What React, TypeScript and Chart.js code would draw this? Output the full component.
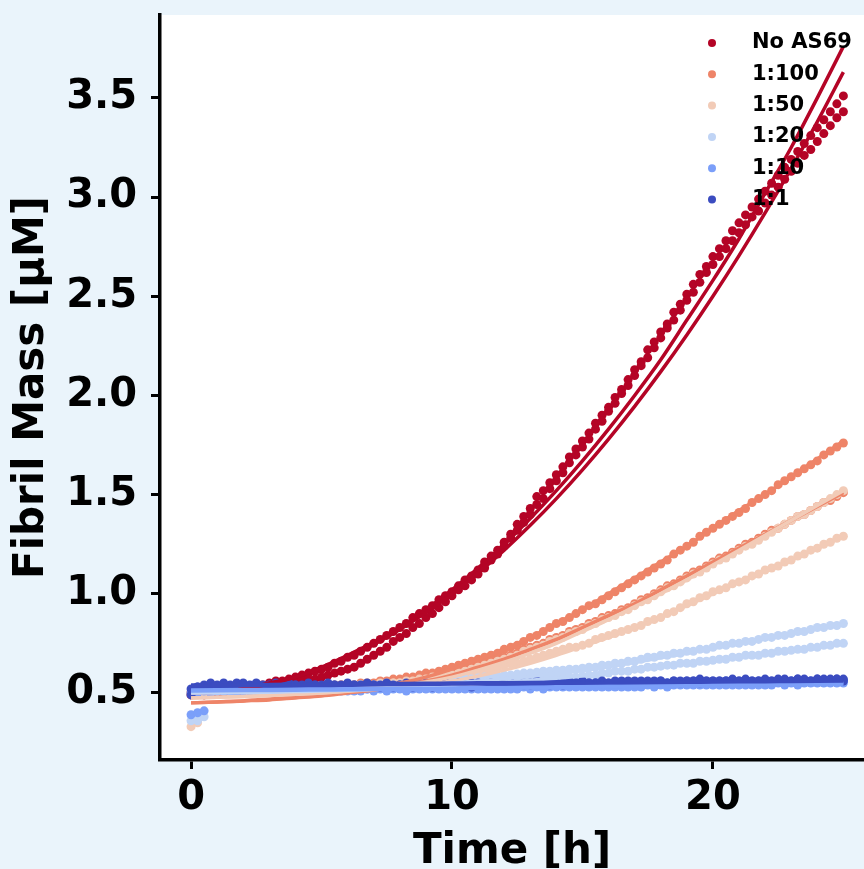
import { useEffect, useRef } from "react";
import { Chart, registerables } from "chart.js";

Chart.register(...registerables);

// ---------------- data ----------------
const conditions = ["No AS69", "1:100", "1:50", "1:20", "1:10", "1:1"];
const colors = ["#b40426", "#ee8468", "#f2cbb7", "#c0d4f5", "#7b9ff9", "#3b4cc0"];

const times = [
  0, 0.25, 0.5, 0.75, 1, 1.25, 1.5, 1.75, 2, 2.25, 2.5, 2.75, 3, 3.25, 3.5, 3.75,
  4, 4.25, 4.5, 4.75, 5, 5.25, 5.5, 5.75, 6, 6.25, 6.5, 6.75, 7, 7.25, 7.5, 7.75,
  8, 8.25, 8.5, 8.75, 9, 9.25, 9.5, 9.75, 10, 10.25, 10.5, 10.75, 11, 11.25, 11.5, 11.75,
  12, 12.25, 12.5, 12.75, 13, 13.25, 13.5, 13.75, 14, 14.25, 14.5, 14.75, 15, 15.25, 15.5, 15.75,
  16, 16.25, 16.5, 16.75, 17, 17.25, 17.5, 17.75, 18, 18.25, 18.5, 18.75, 19, 19.25, 19.5, 19.75,
  20, 20.25, 20.5, 20.75, 21, 21.25, 21.5, 21.75, 22, 22.25, 22.5, 22.75, 23, 23.25, 23.5, 23.75,
  24, 24.25, 24.5, 24.75, 25,
];

const fitTimes = [0, 1, 2, 3, 4, 5, 6, 7, 8, 9, 10, 11, 12, 13, 14, 15, 16, 17, 18, 19, 20, 21, 22, 23, 24, 25];

// measured points (two replicates per condition)
const noAS69A = [
  0.50, 0.50, 0.51, 0.50,
  0.51, 0.51, 0.52, 0.52,
  0.53, 0.53, 0.54, 0.54,
  0.55, 0.56, 0.56, 0.57,
  0.58, 0.59, 0.60, 0.61,
  0.62, 0.63, 0.65, 0.66,
  0.68, 0.69, 0.71, 0.73,
  0.75, 0.77, 0.79, 0.81,
  0.83, 0.85, 0.88, 0.90,
  0.92, 0.94, 0.97, 0.99,
  1.01, 1.04, 1.07, 1.09,
  1.12, 1.16, 1.19, 1.22,
  1.26, 1.30, 1.35, 1.39,
  1.43, 1.49, 1.52, 1.56,
  1.60, 1.64, 1.69, 1.73,
  1.77, 1.81, 1.86, 1.90,
  1.94, 1.99, 2.03, 2.08,
  2.13, 2.17, 2.23, 2.27,
  2.32, 2.36, 2.42, 2.46,
  2.51, 2.56, 2.61, 2.65,
  2.70, 2.74, 2.78, 2.83,
  2.87, 2.91, 2.95, 2.99,
  3.03, 3.07, 3.11, 3.15,
  3.19, 3.23, 3.27, 3.31,
  3.35, 3.39, 3.43, 3.47,
  3.51,
];
const noAS69B = [
  0.49, 0.50, 0.49, 0.50,
  0.50, 0.50, 0.51, 0.51,
  0.51, 0.52, 0.52, 0.53,
  0.53, 0.54, 0.54, 0.55,
  0.55, 0.56, 0.57, 0.57,
  0.58, 0.59, 0.60, 0.61,
  0.62, 0.63, 0.65, 0.67,
  0.69, 0.71, 0.73, 0.76,
  0.78, 0.80, 0.83, 0.85,
  0.88, 0.90, 0.93, 0.96,
  0.99, 1.02, 1.04, 1.07,
  1.10, 1.13, 1.17, 1.20,
  1.24, 1.28, 1.32, 1.36,
  1.40, 1.45, 1.48, 1.53,
  1.57, 1.61, 1.66, 1.70,
  1.74, 1.78, 1.83, 1.87,
  1.92, 1.96, 2.01, 2.05,
  2.10, 2.15, 2.19, 2.24,
  2.29, 2.34, 2.38, 2.43,
  2.48, 2.52, 2.57, 2.62,
  2.66, 2.70, 2.74, 2.78,
  2.82, 2.86, 2.90, 2.93,
  2.97, 3.01, 3.05, 3.09,
  3.13, 3.17, 3.21, 3.24,
  3.28, 3.32, 3.36, 3.40,
  3.43,
];
const r100A = [
  0.50, 0.51, 0.52, 0.52,
  0.52, 0.52, 0.52, 0.53,
  0.52, 0.53, 0.52, 0.53,
  0.53, 0.53, 0.52, 0.53,
  0.53, 0.53, 0.53, 0.53,
  0.53, 0.53, 0.54, 0.54,
  0.54, 0.54, 0.55, 0.55,
  0.55, 0.56, 0.56, 0.57,
  0.57, 0.58, 0.58, 0.59,
  0.60, 0.60, 0.61, 0.62,
  0.63, 0.64, 0.65, 0.66,
  0.67, 0.68, 0.69, 0.70,
  0.72, 0.73, 0.74, 0.76,
  0.78, 0.79, 0.81, 0.83,
  0.85, 0.86, 0.88, 0.90,
  0.92, 0.94, 0.95, 0.97,
  0.99, 1.01, 1.03, 1.05,
  1.07, 1.09, 1.11, 1.13,
  1.15, 1.17, 1.20, 1.22,
  1.24, 1.26, 1.29, 1.31,
  1.33, 1.35, 1.37, 1.39,
  1.41, 1.43, 1.46, 1.48,
  1.50, 1.52, 1.55, 1.57,
  1.59, 1.61, 1.63, 1.65,
  1.67, 1.70, 1.72, 1.74,
  1.76,
];
const r100B = [
  0.50, 0.51, 0.51, 0.52,
  0.52, 0.52, 0.52, 0.52,
  0.52, 0.52, 0.53, 0.52,
  0.52, 0.53, 0.53, 0.53,
  0.53, 0.53, 0.53, 0.53,
  0.53, 0.53, 0.53, 0.54,
  0.53, 0.54, 0.54, 0.54,
  0.54, 0.55, 0.55, 0.55,
  0.56, 0.56, 0.57, 0.57,
  0.58, 0.58, 0.59, 0.59,
  0.60, 0.61, 0.62, 0.63,
  0.64, 0.65, 0.66, 0.67,
  0.68, 0.69, 0.70, 0.72,
  0.73, 0.74, 0.75, 0.77,
  0.78, 0.79, 0.81, 0.82,
  0.83, 0.85, 0.86, 0.88,
  0.89, 0.90, 0.92, 0.93,
  0.95, 0.97, 0.98, 1.00,
  1.02, 1.04, 1.05, 1.07,
  1.09, 1.11, 1.12, 1.14,
  1.16, 1.18, 1.19, 1.21,
  1.23, 1.25, 1.26, 1.28,
  1.30, 1.32, 1.33, 1.35,
  1.37, 1.39, 1.40, 1.42,
  1.44, 1.46, 1.47, 1.49,
  1.51,
];
const r50A = [
  0.33, 0.35, 0.50, 0.51,
  0.52, 0.52, 0.52, 0.52,
  0.52, 0.52, 0.52, 0.53,
  0.52, 0.53, 0.53, 0.53,
  0.53, 0.53, 0.53, 0.53,
  0.53, 0.53, 0.53, 0.53,
  0.54, 0.54, 0.54, 0.54,
  0.54, 0.55, 0.55, 0.55,
  0.55, 0.56, 0.56, 0.57,
  0.57, 0.58, 0.58, 0.59,
  0.59, 0.60, 0.61, 0.62,
  0.63, 0.64, 0.65, 0.66,
  0.67, 0.68, 0.69, 0.71,
  0.72, 0.73, 0.74, 0.76,
  0.77, 0.78, 0.80, 0.81,
  0.82, 0.84, 0.85, 0.87,
  0.88, 0.89, 0.91, 0.92,
  0.94, 0.96, 0.97, 0.99,
  1.01, 1.03, 1.04, 1.06,
  1.08, 1.10, 1.11, 1.13,
  1.15, 1.17, 1.18, 1.20,
  1.22, 1.24, 1.25, 1.27,
  1.29, 1.31, 1.33, 1.35,
  1.37, 1.39, 1.40, 1.42,
  1.44, 1.46, 1.48, 1.50,
  1.52,
];
const r50B = [
  0.50, 0.51, 0.51, 0.52,
  0.52, 0.52, 0.52, 0.52,
  0.52, 0.52, 0.52, 0.52,
  0.52, 0.52, 0.53, 0.52,
  0.53, 0.53, 0.53, 0.53,
  0.53, 0.53, 0.53, 0.53,
  0.53, 0.53, 0.54, 0.54,
  0.54, 0.54, 0.54, 0.55,
  0.55, 0.55, 0.55, 0.56,
  0.56, 0.56, 0.57, 0.57,
  0.57, 0.58, 0.59, 0.59,
  0.60, 0.61, 0.62, 0.63,
  0.64, 0.65, 0.65, 0.66,
  0.67, 0.68, 0.69, 0.70,
  0.71, 0.72, 0.73, 0.73,
  0.74, 0.75, 0.77, 0.78,
  0.79, 0.80, 0.81, 0.82,
  0.83, 0.84, 0.86, 0.87,
  0.88, 0.90, 0.91, 0.93,
  0.95, 0.96, 0.98, 0.99,
  1.01, 1.02, 1.03, 1.05,
  1.06, 1.07, 1.09, 1.10,
  1.12, 1.13, 1.14, 1.16,
  1.17, 1.19, 1.20, 1.22,
  1.23, 1.25, 1.26, 1.28,
  1.29,
];
const r20A = [
  0.36, 0.36, 0.38, 0.50,
  0.51, 0.52, 0.52, 0.52,
  0.52, 0.52, 0.53, 0.52,
  0.52, 0.53, 0.53, 0.52,
  0.53, 0.53, 0.53, 0.53,
  0.53, 0.53, 0.53, 0.53,
  0.53, 0.53, 0.54, 0.53,
  0.54, 0.54, 0.54, 0.54,
  0.54, 0.54, 0.54, 0.55,
  0.55, 0.55, 0.55, 0.56,
  0.56, 0.56, 0.57, 0.57,
  0.575, 0.58, 0.58, 0.585,
  0.59, 0.59, 0.595, 0.60,
  0.60, 0.605, 0.61, 0.61,
  0.615, 0.615, 0.62, 0.62,
  0.625, 0.63, 0.63, 0.64,
  0.64, 0.65, 0.65, 0.66,
  0.66, 0.67, 0.68, 0.68,
  0.69, 0.69, 0.70, 0.70,
  0.71, 0.71, 0.72, 0.72,
  0.73, 0.74, 0.74, 0.75,
  0.75, 0.76, 0.76, 0.77,
  0.78, 0.78, 0.79, 0.79,
  0.80, 0.81, 0.81, 0.82,
  0.83, 0.83, 0.84, 0.84,
  0.85,
];
const r20B = [
  0.50, 0.51, 0.51, 0.51,
  0.52, 0.52, 0.52, 0.52,
  0.52, 0.52, 0.52, 0.52,
  0.52, 0.52, 0.52, 0.53,
  0.52, 0.52, 0.53, 0.52,
  0.53, 0.52, 0.53, 0.53,
  0.53, 0.53, 0.53, 0.53,
  0.53, 0.53, 0.53, 0.53,
  0.53, 0.54, 0.53, 0.54,
  0.54, 0.54, 0.54, 0.54,
  0.545, 0.545, 0.55, 0.55,
  0.55, 0.55, 0.55, 0.56,
  0.56, 0.56, 0.56, 0.57,
  0.57, 0.57, 0.57, 0.58,
  0.58, 0.58, 0.58, 0.58,
  0.585, 0.59, 0.59, 0.60,
  0.60, 0.61, 0.61, 0.61,
  0.62, 0.62, 0.63, 0.63,
  0.635, 0.64, 0.64, 0.65,
  0.65, 0.65, 0.66, 0.66,
  0.665, 0.67, 0.67, 0.68,
  0.68, 0.69, 0.69, 0.69,
  0.70, 0.70, 0.71, 0.71,
  0.715, 0.72, 0.72, 0.73,
  0.73, 0.74, 0.74, 0.75,
  0.75,
];
const r10A = [
  0.39, 0.40, 0.41, 0.50,
  0.51, 0.51, 0.52, 0.51,
  0.52, 0.51, 0.52, 0.52,
  0.52, 0.52, 0.51, 0.52,
  0.52, 0.52, 0.52, 0.52,
  0.52, 0.52, 0.52, 0.53,
  0.52, 0.52, 0.53, 0.52,
  0.52, 0.53, 0.52, 0.53,
  0.53, 0.52, 0.53, 0.53,
  0.53, 0.53, 0.53, 0.53,
  0.53, 0.53, 0.53, 0.53,
  0.53, 0.54, 0.53, 0.53,
  0.54, 0.53, 0.54, 0.54,
  0.54, 0.54, 0.54, 0.54,
  0.54, 0.54, 0.54, 0.54,
  0.54, 0.54, 0.55, 0.54,
  0.54, 0.55, 0.54, 0.55,
  0.55, 0.55, 0.55, 0.55,
  0.55, 0.55, 0.55, 0.55,
  0.55, 0.55, 0.55, 0.55,
  0.55, 0.55, 0.56, 0.55,
  0.55, 0.56, 0.55, 0.56,
  0.56, 0.55, 0.56, 0.56,
  0.56, 0.56, 0.56, 0.56,
  0.56, 0.56, 0.56, 0.56,
  0.56,
];
const r10B = [
  0.50, 0.50, 0.51, 0.51,
  0.51, 0.51, 0.51, 0.51,
  0.51, 0.51, 0.51, 0.51,
  0.51, 0.51, 0.51, 0.51,
  0.51, 0.51, 0.51, 0.51,
  0.51, 0.51, 0.51, 0.51,
  0.51, 0.51, 0.51, 0.52,
  0.51, 0.52, 0.51, 0.52,
  0.52, 0.51, 0.52, 0.52,
  0.52, 0.52, 0.52, 0.52,
  0.52, 0.52, 0.52, 0.52,
  0.52, 0.52, 0.52, 0.52,
  0.52, 0.52, 0.52, 0.53,
  0.52, 0.53, 0.52, 0.53,
  0.53, 0.53, 0.53, 0.53,
  0.53, 0.53, 0.53, 0.53,
  0.53, 0.53, 0.53, 0.53,
  0.53, 0.53, 0.54, 0.53,
  0.54, 0.53, 0.54, 0.54,
  0.54, 0.54, 0.54, 0.54,
  0.54, 0.54, 0.54, 0.54,
  0.54, 0.54, 0.54, 0.54,
  0.54, 0.54, 0.55, 0.54,
  0.55, 0.54, 0.55, 0.55,
  0.55, 0.55, 0.55, 0.55,
  0.55,
];
const r1A = [
  0.49, 0.53, 0.54, 0.55,
  0.54, 0.55, 0.54, 0.55,
  0.55, 0.54, 0.55, 0.54,
  0.54, 0.55, 0.54, 0.55,
  0.54, 0.54, 0.55, 0.54,
  0.54, 0.55, 0.54, 0.54,
  0.55, 0.54, 0.54, 0.55,
  0.54, 0.54, 0.55, 0.54,
  0.54, 0.55, 0.54, 0.54,
  0.55, 0.54, 0.54, 0.55,
  0.54, 0.55, 0.54, 0.55,
  0.55, 0.54, 0.55, 0.55,
  0.55, 0.55, 0.54, 0.55,
  0.55, 0.56, 0.55, 0.55,
  0.55, 0.55, 0.56, 0.55,
  0.56, 0.55, 0.55, 0.56,
  0.55, 0.56, 0.56, 0.55,
  0.56, 0.56, 0.55, 0.56,
  0.56, 0.55, 0.56, 0.56,
  0.56, 0.56, 0.57, 0.56,
  0.56, 0.56, 0.56, 0.57,
  0.56, 0.57, 0.56, 0.56,
  0.57, 0.56, 0.56, 0.57,
  0.56, 0.57, 0.57, 0.56,
  0.57, 0.57, 0.56, 0.57,
  0.57,
];
const r1B = [
  0.52, 0.53, 0.53, 0.53,
  0.53, 0.54, 0.53, 0.53,
  0.54, 0.53, 0.54, 0.53,
  0.53, 0.54, 0.53, 0.53,
  0.54, 0.53, 0.53, 0.54,
  0.53, 0.53, 0.54, 0.53,
  0.53, 0.54, 0.53, 0.54,
  0.54, 0.53, 0.54, 0.53,
  0.54, 0.54, 0.53, 0.54,
  0.54, 0.53, 0.54, 0.54,
  0.54, 0.54, 0.54, 0.53,
  0.54, 0.54, 0.54, 0.54,
  0.54, 0.55, 0.54, 0.54,
  0.54, 0.55, 0.55, 0.54,
  0.55, 0.54, 0.55, 0.55,
  0.55, 0.55, 0.55, 0.55,
  0.55, 0.55, 0.55, 0.56,
  0.55, 0.55, 0.56, 0.55,
  0.56, 0.55, 0.56, 0.55,
  0.56, 0.56, 0.55, 0.56,
  0.56, 0.56, 0.56, 0.56,
  0.56, 0.56, 0.56, 0.56,
  0.56, 0.56, 0.57, 0.56,
  0.56, 0.57, 0.56, 0.56,
  0.57, 0.56, 0.57, 0.57,
  0.56,
];

// fitted curves (hourly)
const fitNoAS69A = [0.50, 0.505, 0.52, 0.55, 0.58, 0.63, 0.69, 0.755, 0.83, 0.92, 1.02, 1.13, 1.25, 1.38, 1.52, 1.67, 1.83, 2.00, 2.18, 2.38, 2.58, 2.79, 3.02, 3.25, 3.50, 3.76];
const fitNoAS69B = [0.50, 0.505, 0.52, 0.545, 0.58, 0.625, 0.68, 0.745, 0.82, 0.905, 1.00, 1.105, 1.22, 1.345, 1.48, 1.625, 1.78, 1.945, 2.12, 2.305, 2.50, 2.705, 2.92, 3.145, 3.38, 3.63];
const fit100A = [0.45, 0.455, 0.46, 0.47, 0.48, 0.49, 0.505, 0.525, 0.55, 0.58, 0.62, 0.67, 0.72, 0.78, 0.85, 0.92, 1.00, 1.08, 1.16, 1.24, 1.33, 1.42, 1.50, 1.59, 1.68, 1.77];
const fit100B = [0.45, 0.455, 0.46, 0.465, 0.475, 0.485, 0.50, 0.515, 0.535, 0.56, 0.59, 0.63, 0.67, 0.72, 0.77, 0.83, 0.89, 0.95, 1.02, 1.09, 1.16, 1.23, 1.30, 1.37, 1.44, 1.51];
const fit50A = [0.475, 0.478, 0.482, 0.487, 0.493, 0.50, 0.51, 0.52, 0.535, 0.555, 0.58, 0.615, 0.655, 0.70, 0.75, 0.81, 0.87, 0.935, 1.00, 1.07, 1.145, 1.22, 1.295, 1.37, 1.445, 1.52];
const fit50B = [0.475, 0.478, 0.482, 0.487, 0.493, 0.50, 0.508, 0.517, 0.528, 0.543, 0.56, 0.585, 0.615, 0.65, 0.69, 0.735, 0.78, 0.83, 0.88, 0.94, 1.00, 1.06, 1.115, 1.17, 1.23, 1.29];
const fit20A = [0.50, 0.501, 0.503, 0.506, 0.51, 0.515, 0.52, 0.526, 0.533, 0.541, 0.55, 0.56, 0.571, 0.583, 0.597, 0.612, 0.632, 0.654, 0.677, 0.701, 0.725, 0.75, 0.775, 0.80, 0.825, 0.85];
const fit20B = [0.50, 0.501, 0.502, 0.504, 0.507, 0.51, 0.514, 0.519, 0.525, 0.531, 0.538, 0.546, 0.555, 0.564, 0.574, 0.585, 0.60, 0.615, 0.632, 0.648, 0.665, 0.682, 0.699, 0.716, 0.733, 0.75];
const fit10A = [0.515, 0.516, 0.517, 0.518, 0.519, 0.52, 0.521, 0.522, 0.523, 0.524, 0.525, 0.527, 0.528, 0.53, 0.531, 0.533, 0.535, 0.536, 0.538, 0.54, 0.541, 0.543, 0.545, 0.547, 0.548, 0.55];
const fit10B = [0.51, 0.511, 0.512, 0.513, 0.514, 0.515, 0.516, 0.517, 0.518, 0.519, 0.52, 0.522, 0.523, 0.525, 0.526, 0.528, 0.53, 0.531, 0.533, 0.535, 0.536, 0.538, 0.54, 0.542, 0.543, 0.545];
const fit1A = [0.54, 0.541, 0.542, 0.543, 0.544, 0.545, 0.546, 0.547, 0.548, 0.549, 0.55, 0.551, 0.552, 0.553, 0.554, 0.555, 0.556, 0.557, 0.558, 0.559, 0.56, 0.561, 0.562, 0.563, 0.564, 0.565];
const fit1B = [0.535, 0.536, 0.537, 0.538, 0.539, 0.54, 0.541, 0.542, 0.543, 0.544, 0.545, 0.546, 0.547, 0.548, 0.549, 0.55, 0.551, 0.552, 0.553, 0.554, 0.555, 0.556, 0.557, 0.558, 0.559, 0.56];

const dotSeries = [
  [noAS69A, noAS69B],
  [r100A, r100B],
  [r50A, r50B],
  [r20A, r20B],
  [r10A, r10B],
  [r1A, r1B],
];
const fitSeries = [
  [fitNoAS69A, fitNoAS69B],
  [fit100A, fit100B],
  [fit50A, fit50B],
  [fit20A, fit20B],
  [fit10A, fit10B],
  [fit1A, fit1B],
];

const xTicks = [0, 10, 20];
const yTicks = [0.5, 1.0, 1.5, 2.0, 2.5, 3.0, 3.5];

const FONT = "'DejaVu Sans', 'Liberation Sans', sans-serif";

const backgroundPlugin = {
  id: "bgPlugin",
  beforeDraw(chart: any) {
    const { ctx, chartArea, width, height } = chart;
    ctx.save();
    ctx.fillStyle = "#eaf4fb";
    ctx.fillRect(0, 0, width, height);
    ctx.fillStyle = "#ffffff";
    ctx.fillRect(chartArea.left, chartArea.top, width - chartArea.left, chartArea.bottom - chartArea.top);
    ctx.restore();
  },
};

const legendPlugin = {
  id: "customLegend",
  afterDatasetsDraw(chart: any) {
    const { ctx, chartArea } = chart;
    ctx.save();
    ctx.font = `bold 21px ${FONT}`;
    ctx.textBaseline = "middle";
    ctx.textAlign = "left";
    conditions.forEach((label, i) => {
      const y = chartArea.top + 28 + i * 31.3;
      ctx.fillStyle = colors[i];
      ctx.beginPath();
      ctx.arc(chartArea.right - 152, y, 4, 0, Math.PI * 2);
      ctx.fill();
      ctx.fillStyle = "#000000";
      ctx.fillText(label, chartArea.right - 112, y);
    });
    ctx.restore();
  },
};

export default function App() {
  const ref = useRef<HTMLCanvasElement>(null);

  useEffect(() => {
    if (!ref.current) return;
    const toXY = (xs: number[], ys: number[]) => ys.map((y, i) => ({ x: xs[i], y }));
    const datasets: any[] = [];
    let order = 1000;
    dotSeries.forEach((pair, ci) =>
      pair.forEach((vals, ri) =>
        datasets.push({
          label: `${conditions[ci]} ${ri + 1}`,
          data: toXY(times, vals),
          backgroundColor: colors[ci],
          borderColor: colors[ci],
          pointRadius: 4.5,
          pointBorderWidth: 0,
          pointHoverRadius: 4.5,
          showLine: false,
          order: order--,
        })
      )
    );
    fitSeries.forEach((pair, ci) =>
      pair.forEach((vals, ri) =>
        datasets.push({
          label: `${conditions[ci]} fit ${ri + 1}`,
          data: toXY(fitTimes, vals),
          borderColor: colors[ci],
          backgroundColor: colors[ci],
          borderWidth: 3.5,
          pointRadius: 0,
          pointHoverRadius: 0,
          showLine: true,
          cubicInterpolationMode: "monotone",
          order: order--,
        })
      )
    );

    const tickFont = { family: FONT, weight: "bold" as const, size: 40 };
    const titleFont = { family: FONT, weight: "bold" as const, size: 42, lineHeight: 0.8 };

    const chart = new Chart(ref.current, {
      type: "scatter",
      data: { datasets },
      options: {
        animation: false,
        responsive: false,
        events: [],
        layout: { autoPadding: false, padding: { top: 15, left: 0, right: 0, bottom: 0 } },
        plugins: { legend: { display: false }, tooltip: { enabled: false } },
        scales: {
          x: {
            type: "linear",
            min: -1.19,
            max: 25.79,
            afterBuildTicks: (s: any) => {
              s.ticks = xTicks.map((v) => ({ value: v }));
            },
            afterFit: (s: any) => {
              s.height = 109;
              s.paddingLeft = 0;
              s.paddingRight = 0;
            },
            grid: { display: true, drawOnChartArea: false, drawTicks: true, tickLength: 9, tickWidth: 3, tickColor: "#000", color: "#000" },
            border: { display: true, color: "#000", width: 3.5 },
            ticks: { font: tickFont, color: "#000", padding: 6, maxRotation: 0, autoSkip: false, callback: (v: any) => String(v) },
            title: { display: true, text: "Time [h]", font: titleFont, color: "#000", padding: { top: 0, bottom: 0 } },
          },
          y: {
            type: "linear",
            min: 0.162,
            max: 3.918,
            afterBuildTicks: (s: any) => {
              s.ticks = yTicks.map((v) => ({ value: v }));
            },
            afterFit: (s: any) => {
              s.width = 160;
              s.paddingTop = 0;
              s.paddingBottom = 0;
            },
            grid: { display: true, drawOnChartArea: false, drawTicks: true, tickLength: 9, tickWidth: 3, tickColor: "#000", color: "#000" },
            border: { display: true, color: "#000", width: 3.5 },
            ticks: { font: tickFont, color: "#000", padding: 14, autoSkip: false, callback: (v: any) => Number(v).toFixed(1) },
            title: { display: true, text: "Fibril Mass [μM]", font: titleFont, color: "#000", padding: { top: 15, bottom: 0 } },
          },
        },
      },
      plugins: [backgroundPlugin, legendPlugin],
    });
    return () => chart.destroy();
  }, []);

  return (
    <div style={{ position: "absolute", left: 0, top: 0, width: 864, height: 869, background: "#eaf4fb", overflow: "hidden" }}>
      <canvas ref={ref} width={864} height={869} style={{ display: "block" }} />
    </div>
  );
}
